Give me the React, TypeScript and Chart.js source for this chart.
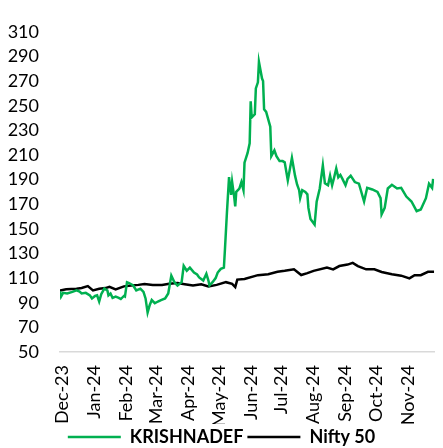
import React, { useEffect, useRef } from "react";
import { Chart, registerables } from "chart.js";

Chart.register(...registerables);

const monthTickDates = [
  "2023-12-01", "2024-01-01", "2024-02-01", "2024-03-01", "2024-04-01", "2024-05-01",
  "2024-06-01", "2024-07-01", "2024-08-01", "2024-09-01", "2024-10-01", "2024-11-01",
];
const monthLabels = [
  "Dec-23", "Jan-24", "Feb-24", "Mar-24", "Apr-24", "May-24",
  "Jun-24", "Jul-24", "Aug-24", "Sep-24", "Oct-24", "Nov-24",
];

const krishnaDates = [
  "2023-11-29", "2023-11-30", "2023-12-02", "2023-12-06", "2023-12-11", "2023-12-15", "2023-12-18",
  "2023-12-20", "2023-12-24", "2023-12-28", "2023-12-30", "2024-01-02", "2024-01-04", "2024-01-06",
  "2024-01-08", "2024-01-11", "2024-01-14", "2024-01-15", "2024-01-17", "2024-01-19", "2024-01-22",
  "2024-01-25", "2024-01-27", "2024-01-30", "2024-01-31", "2024-02-02", "2024-02-04", "2024-02-08",
  "2024-02-11", "2024-02-15", "2024-02-18", "2024-02-20", "2024-02-22", "2024-02-24", "2024-02-26",
  "2024-02-29", "2024-03-03", "2024-03-06", "2024-03-10", "2024-03-13", "2024-03-16", "2024-03-19",
  "2024-03-22", "2024-03-26", "2024-03-28", "2024-03-31", "2024-04-03", "2024-04-07", "2024-04-10",
  "2024-04-12", "2024-04-16", "2024-04-19", "2024-04-21", "2024-04-22", "2024-04-25", "2024-04-28",
  "2024-04-30", "2024-05-03", "2024-05-06", "2024-05-07", "2024-05-09", "2024-05-11", "2024-05-13",
  "2024-05-14", "2024-05-16", "2024-05-17", "2024-05-18", "2024-05-21", "2024-05-23", "2024-05-25",
  "2024-05-26", "2024-05-29", "2024-05-31", "2024-06-01", "2024-06-02", "2024-06-05", "2024-06-06",
  "2024-06-08", "2024-06-09", "2024-06-12", "2024-06-13", "2024-06-14", "2024-06-16", "2024-06-20",
  "2024-06-21", "2024-06-24", "2024-06-26", "2024-06-29", "2024-07-02", "2024-07-04", "2024-07-07",
  "2024-07-11", "2024-07-14", "2024-07-16", "2024-07-18", "2024-07-19", "2024-07-21", "2024-07-24",
  "2024-07-26", "2024-07-27", "2024-07-29", "2024-08-02", "2024-08-04", "2024-08-07", "2024-08-10",
  "2024-08-12", "2024-08-15", "2024-08-17", "2024-08-19", "2024-08-21", "2024-08-23", "2024-08-25",
  "2024-08-27", "2024-08-29", "2024-09-01", "2024-09-03", "2024-09-06", "2024-09-10", "2024-09-14",
  "2024-09-19", "2024-09-22", "2024-09-27", "2024-10-02", "2024-10-05", "2024-10-06", "2024-10-09",
  "2024-10-12", "2024-10-16", "2024-10-21", "2024-10-25", "2024-10-30", "2024-11-04", "2024-11-09",
  "2024-11-13", "2024-11-18", "2024-11-21", "2024-11-24", "2024-11-25",
];
const krishnaValues = [
  99.3, 95, 98, 97.5, 98.8, 100, 99,
  97.5, 98, 96, 93.5, 95.5, 96, 91,
  97, 101.5, 100, 96, 97.5, 94, 95,
  94, 93, 95.5, 95, 106.7, 106, 104,
  100, 101.4, 98.8, 93.5, 82, 88, 92.2,
  89.6, 91, 92.2, 93.5, 97.5, 112, 106.7,
  104, 106.7, 120, 116, 118.5, 114.5, 113,
  110.6, 108, 113.5, 108, 104, 106.7, 110,
  114.5, 117.5, 118.5, 133, 164, 192, 177.5,
  188, 176, 168.3, 180, 182.6, 188, 181.4,
  203.7, 211.6, 219.4, 253.6, 240.5, 243, 264,
  269, 285.5, 272, 270, 247, 245, 233,
  209, 213.7, 209, 205, 205, 204, 189.3,
  207.6, 193.2, 186, 181.4, 175, 181.4, 180,
  178, 167, 158, 153.5, 172, 182.8, 201.6,
  187, 185.4, 193.2, 185.4, 191.9, 199, 191.9,
  193.8, 190.6, 185.4, 190.6, 193.2, 188, 186.7,
  172.2, 183.3, 182, 180, 174.9, 161.8, 167,
  182.8, 185.8, 182.8, 183.3, 176.2, 172.2, 164.4,
  165.7, 174.9, 186.7, 183.3, 190.6,
];

const niftyDates = [
  "2023-11-29", "2023-12-05", "2023-12-15", "2023-12-20", "2023-12-26", "2023-12-31", "2024-01-06",
  "2024-01-12", "2024-01-16", "2024-01-22", "2024-01-30", "2024-02-06", "2024-02-13", "2024-02-19",
  "2024-02-27", "2024-03-07", "2024-03-14", "2024-03-22", "2024-03-29", "2024-04-06", "2024-04-14",
  "2024-04-21", "2024-04-29", "2024-05-08", "2024-05-14", "2024-05-17", "2024-05-19", "2024-05-26",
  "2024-06-08", "2024-06-18", "2024-06-27", "2024-07-04", "2024-07-13", "2024-07-20", "2024-07-26",
  "2024-08-01", "2024-08-14", "2024-08-20", "2024-08-26", "2024-09-03", "2024-09-08", "2024-09-13",
  "2024-09-21", "2024-09-29", "2024-10-06", "2024-10-16", "2024-10-25", "2024-11-02", "2024-11-07",
  "2024-11-13", "2024-11-20", "2024-11-26",
];
const niftyValues = [
  100, 100.9, 101.4, 102, 103.5, 100, 101.4,
  101.9, 103, 100.9, 103.3, 104, 104.5, 105.3,
  104.5, 104.5, 105.5, 106, 105, 104, 105,
  103.3, 104.5, 106.7, 105.3, 102.7, 108.8, 109.3,
  112.4, 113.2, 115.1, 115.9, 117.1, 112.5, 114,
  115.9, 118.5, 117.1, 119.8, 121, 122.4, 119.8,
  117.1, 117.1, 115, 113.2, 112, 109.8, 112.4,
  112.4, 115.1, 115.1,
];

const yMin = 50;
const yMax = 310;
const yStep = 20;

function dayOf(s: string): number {
  const [y, m, d] = s.split("-").map(Number);
  return (Date.UTC(y, m - 1, d) - Date.UTC(2023, 11, 1)) / 86400000;
}

const FONT = "Lato, 'Noto Sans', sans-serif";

export default function App() {
  const ref = useRef<HTMLCanvasElement | null>(null);
  useEffect(() => {
    if (!ref.current) return;
    const chart = new Chart(ref.current, {
      type: "line",
      data: {
        datasets: [
          {
            label: "KRISHNADEF",
            data: krishnaDates.map((d, i) => ({ x: dayOf(d), y: krishnaValues[i] })),
            borderColor: "#00B050",
            backgroundColor: "#00B050",
            borderWidth: 2.5,
            pointRadius: 0,
            tension: 0,
          },
          {
            label: "Nifty 50",
            data: niftyDates.map((d, i) => ({ x: dayOf(d), y: niftyValues[i] })),
            borderColor: "#000000",
            backgroundColor: "#000000",
            borderWidth: 2.5,
            pointRadius: 0,
            tension: 0,
          },
        ],
      },
      options: {
        responsive: false,
        animation: false,
        devicePixelRatio: 1,
        layout: { padding: { top: 22, left: 0, right: 0, bottom: 0 } },
        plugins: {
          tooltip: { enabled: false },
          legend: {
            position: "bottom",
            labels: {
              usePointStyle: true,
              pointStyle: "line",
              pointStyleWidth: 53,
              padding: 4,
              color: "#000",
              font: { family: FONT, size: 18, weight: "bold" },
            },
          },
        },
        scales: {
          x: {
            type: "linear",
            min: -2,
            max: 361,
            afterBuildTicks: (s: any) => {
              s.ticks = monthTickDates.map((d) => ({ value: dayOf(d) }));
            },
            afterFit: (s: any) => {
              s.height = 72;
            },
            ticks: {
              autoSkip: false,
              maxRotation: 90,
              minRotation: 90,
              padding: 13,
              color: "#000",
              font: { family: FONT, size: 18 },
              callback: (_v: any, i: number) => monthLabels[i],
            },
            grid: { display: false, drawTicks: false },
            border: { display: true, color: "#D9D9D9", width: 1.5 },
          },
          y: {
            min: yMin,
            max: yMax,
            afterFit: (s: any) => {
              s.width = 60;
            },
            ticks: {
              stepSize: yStep,
              padding: 21,
              color: "#000",
              font: { family: FONT, size: 18 },
            },
            grid: { display: false, drawTicks: false },
            border: { display: false },
          },
        },
      },
    });
    return () => chart.destroy();
  }, []);
  return (
    <div style={{ position: "fixed", left: 0, top: 0, width: 443, height: 448, overflow: "hidden", background: "#fff" }}>
      <canvas ref={ref} width={443} height={456} style={{ display: "block" }} />
    </div>
  );
}
